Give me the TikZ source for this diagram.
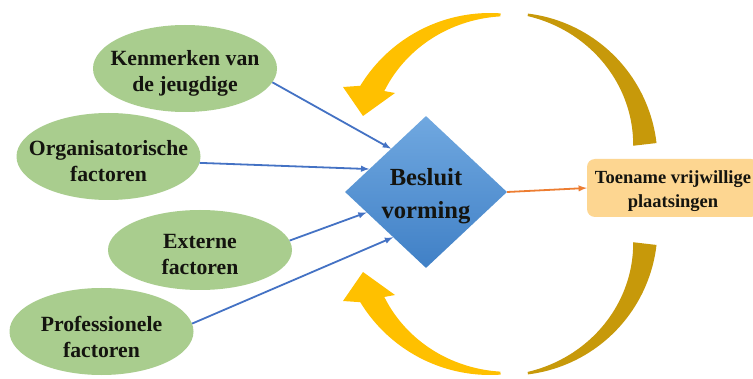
\documentclass[tikz,border=0pt]{standalone}
\usepackage{fontspec}
\setmainfont{Liberation Serif}
\usetikzlibrary{shapes.geometric}
\definecolor{factorgreen}{RGB}{169,205,142}
\definecolor{diamondtop}{RGB}{112,168,224}
\definecolor{diamondbot}{RGB}{64,128,198}
\definecolor{boxorange}{RGB}{253,214,145}
\definecolor{goldlight}{RGB}{255,192,0}
\definecolor{golddark}{RGB}{199,153,10}
\definecolor{linkblue}{RGB}{68,114,196}
\definecolor{linkorange}{RGB}{237,125,49}
\definecolor{ink}{RGB}{20,20,15}
\tikzset{
  >=latex,
  x=1pt, y=1pt,
}
\tikzstyle{factor}=[ellipse,fill=factorgreen,minimum width=184pt,minimum height=87pt,inner sep=0pt]
\tikzstyle{factortext}=[font=\fontsize{21.7}{26}\selectfont\bfseries,text=ink,align=center,yshift=-5pt]
\tikzstyle{besluittext}=[font=\fontsize{24.6}{33}\selectfont\bfseries,text=ink,align=center,yshift=-4pt]
\tikzstyle{toenametext}=[font=\fontsize{18.5}{24}\selectfont\bfseries,text=ink,align=center,yshift=-3pt]
\tikzstyle{link}=[linkblue,line width=1.8pt,->]

\begin{document}
\begin{tikzpicture}
        \useasboundingbox (0,0) rectangle (753,378);
        \fill[white] (0,0) rectangle (753,378);
        \fill[goldlight] plot[domain=86:148.6,samples=40] ({490+152*cos(\x)},{213+152*sin(\x)}) -- (343,291) -- (363,262) -- (395,285) -- (384,287)
          -- plot[domain=145:86,samples=40] ({490+(149-0.339*(\x-86))*cos(\x)},{213+(149-0.339*(\x-86))*sin(\x)}) -- cycle;
        \fill[goldlight] plot[domain=-86:-148.6,samples=40] ({490+152*cos(\x)},{155+152*sin(\x)}) -- (343,77) -- (363,106) -- (395,83) -- (384,81)
          -- plot[domain=-145:-86,samples=40] ({490+(149-0.339*(abs(\x)-86))*cos(\x)},{155+(149-0.339*(abs(\x)-86))*sin(\x)}) -- cycle;
        \fill[golddark] plot[domain=83:6.6,samples=40] ({510+147.5*cos(\x)},{218+147.5*sin(\x)})
          -- plot[domain=6.6:83,samples=40] ({510+(124+0.275*(\x-6.6))*cos(\x)},{218+(124+0.275*(\x-6.6))*sin(\x)}) -- cycle;
        \fill[golddark] plot[domain=-83:-6.6,samples=40] ({510+147.5*cos(\x)},{150+147.5*sin(\x)})
          -- plot[domain=-6.6:-83,samples=40] ({510+(124+0.275*(abs(\x)-6.6))*cos(\x)},{150+(124+0.275*(abs(\x)-6.6))*sin(\x)}) -- cycle;
        \node[factor,label={[factortext]center:Kenmerken van\\de jeugdige}] (kenmerken) at (185,309.5) {};
        \node[factor,label={[factortext]center:Organisatorische\\factoren}] (organisatie) at (108.5,221.5) {};
        \node[factor,minimum height=80pt,label={[factortext]center:Externe\\factoren}] (extern) at (200,128) {};
        \node[factor,label={[factortext]center:Professionele\\factoren}] (professioneel) at (101.5,46.5) {};
        \node[diamond,minimum width=162pt,minimum height=152pt,inner sep=0pt,top color=diamondtop,bottom color=diamondbot,
          label={[besluittext]center:Besluit\\vorming}] (besluit) at (426,186) {};
        \node[rounded corners=8pt,fill=boxorange,minimum width=172pt,minimum height=58pt,inner sep=0pt,
          label={[toenametext]center:Toename vrijwillige\\plaatsingen}] (toename) at (673,190) {};
        \draw[link] (kenmerken.-9) -- (besluit.129);
        \draw[link] (organisatie.-4) -- (besluit.158);
        \draw[link] (extern.6) -- (besluit.199);
        \draw[link] (professioneel.5) -- (besluit.234);
        \draw[link,linkorange] (besluit.east) -- (toename.west);
      \end{tikzpicture}
\end{document}
